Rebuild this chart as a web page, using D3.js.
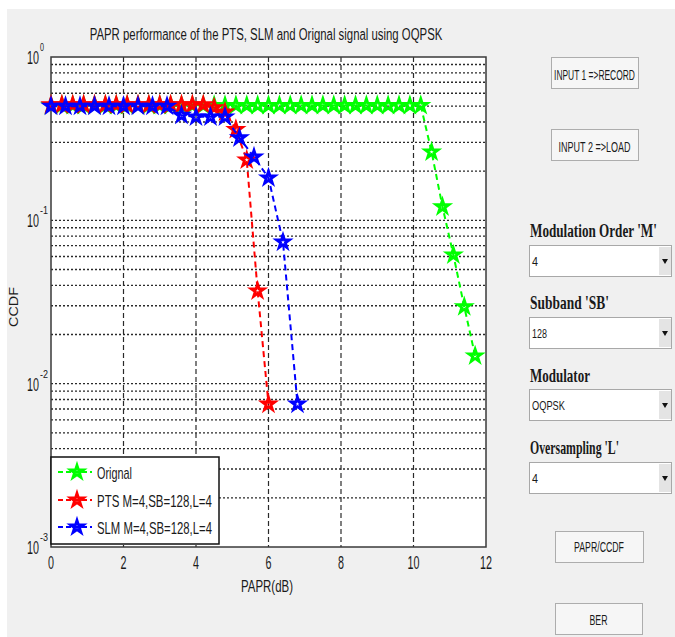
<!DOCTYPE html>
<html>
<head>
<meta charset="utf-8">
<script src="https://cdn.jsdelivr.net/npm/d3@7"></script>
<style>
  body { margin: 0; background: #fff; }
  svg { display: block; }
</style>
</head>
<body>
<div id="chart"></div>
<script>
// --- data ---
const titleText = "PAPR performance of the PTS, SLM and Orignal signal using OQPSK";
const xTicks = [0, 2, 4, 6, 8, 10, 12];
const yDecades = [1, 0.1, 0.01, 0.001];
const yDecadeExp = ["0", "-1", "-2", "-3"];

const origX = [0, 0.3, 0.6, 0.9, 1.2, 1.5, 1.8, 2.1, 2.4, 2.7, 3.0, 3.3, 3.6, 3.9, 4.2, 4.5, 4.8, 5.1, 5.4, 5.7,
               6.0, 6.3, 6.6, 6.9, 7.2, 7.5, 7.8, 8.1, 8.4, 8.7, 9.0, 9.3, 9.6, 9.9, 10.2, 10.5, 10.8, 11.1, 11.4, 11.7];
const origY = [0.505, 0.505, 0.505, 0.505, 0.505, 0.505, 0.505, 0.505, 0.505, 0.505, 0.505, 0.505, 0.505, 0.505,
               0.505, 0.505, 0.505, 0.505, 0.505, 0.505, 0.505, 0.505, 0.505, 0.505, 0.505, 0.505, 0.505, 0.505,
               0.505, 0.505, 0.505, 0.505, 0.505, 0.505, 0.505, 0.262, 0.121, 0.0614, 0.0296, 0.0148];

const ptsX = [0, 0.3, 0.6, 0.9, 1.2, 1.5, 1.8, 2.1, 2.4, 2.7, 3.0, 3.3, 3.6, 3.9, 4.2, 4.5, 4.8, 5.1, 5.4, 5.7, 6.0];
const ptsY = [0.51, 0.51, 0.51, 0.51, 0.51, 0.51, 0.51, 0.51, 0.51, 0.51, 0.51, 0.51, 0.51, 0.51, 0.51,
              0.49, 0.46, 0.36, 0.234, 0.037, 0.0075];

const slmX = [0, 0.4, 0.8, 1.2, 1.6, 2.0, 2.4, 2.8, 3.2, 3.6, 4.0, 4.4, 4.8, 5.2, 5.6, 6.0, 6.4, 6.8];
const slmY = [0.5, 0.5, 0.5, 0.5, 0.5, 0.5, 0.5, 0.5, 0.5, 0.44, 0.43, 0.43, 0.43, 0.32, 0.244, 0.182, 0.0736, 0.0075];

const seriesNames = ["Orignal", "PTS M=4,SB=128,L=4", "SLM M=4,SB=128,L=4"];
const seriesColors = ["#00ff00", "#ff0000", "#0000ff"];

const buttonLabels = ["INPUT 1 =>RECORD", "INPUT 2  =>LOAD", "PAPR/CCDF", "BER"];
const menuLabels = ["Modulation Order 'M'", "Subband 'SB'", "Modulator", "Oversampling 'L'"];
const menuValues = ["4", "128", "OQPSK", "4"];

// --- layout ---
const W = 675, H = 637;
const plot = { left: 51, top: 57, right: 486, bottom: 547 };

const svg = d3.select("#chart").append("svg")
    .attr("width", W)
    .attr("height", H);

svg.append("rect").attr("x", 7).attr("y", 9).attr("width", W - 7).attr("height", H - 9).attr("fill", "#f0f0f0");

// MATLAB screenshot text is squeezed sideways: measure, then scale to the width seen
function label(parent, x, y, str, size, width, anchor, family, weight, rot) {
    const t = parent.append("text")
        .attr("x", 0).attr("y", 0)
        .attr("font-family", family || "Liberation Sans, Arial, sans-serif")
        .attr("font-size", size)
        .attr("font-weight", weight || "normal")
        .attr("text-anchor", anchor || "start")
        .attr("fill", "#1a1a1a")
        .text(str);
    const natural = t.node().getComputedTextLength() || width;
    const sx = width ? width / natural : 1;
    t.attr("transform", "translate(" + x + "," + y + ")" + (rot ? " rotate(" + rot + ")" : "") + " scale(" + sx + ",1)");
    return t;
}

const x = d3.scaleLinear().domain([0, 12]).range([plot.left, plot.right]);
const y = d3.scaleLog().domain([0.001, 1]).range([plot.bottom, plot.top]);

// plot background
svg.append("rect")
    .attr("x", plot.left).attr("y", plot.top)
    .attr("width", plot.right - plot.left).attr("height", plot.bottom - plot.top)
    .attr("fill", "#fff");

// grid
const grid = svg.append("g");
const minor = [];
[0.001, 0.01, 0.1].forEach(d => { for (let k = 1; k <= 9; k++) minor.push(d * k); });
grid.selectAll("line.h").data(minor.filter(v => v > 0.001)).enter().append("line")
    .attr("x1", plot.left).attr("x2", plot.right)
    .attr("y1", d => y(d)).attr("y2", d => y(d))
    .attr("stroke", "#2a2a2a").attr("stroke-width", 1.4)
    .attr("stroke-dasharray", "2,2");
grid.selectAll("line.v").data(xTicks.slice(1, -1)).enter().append("line")
    .attr("x1", d => x(d)).attr("x2", d => x(d))
    .attr("y1", plot.top).attr("y2", plot.bottom)
    .attr("stroke", "#2a2a2a").attr("stroke-width", 1.2)
    .attr("stroke-dasharray", "5,3");

// axes box
svg.append("rect")
    .attr("x", plot.left).attr("y", plot.top)
    .attr("width", plot.right - plot.left).attr("height", plot.bottom - plot.top)
    .attr("fill", "none").attr("stroke", "#3a3a3a").attr("stroke-width", 1.5);

// x tick labels
xTicks.forEach(t => {
    label(svg, x(t), 569, String(t), 18, String(t).length * 6, "middle");
});
label(svg, 267, 592, "PAPR(dB)", 17, 52, "middle");

// y tick labels
yDecades.forEach((d, i) => {
    const ty = y(d);
    label(svg, 39, ty + 7, "10", 18, 12, "end");
    label(svg, 40, ty - 6, yDecadeExp[i], 11, yDecadeExp[i].length * 4, "start");
});
label(svg, 18, 307, "CCDF", 13, 40, "middle", null, null, -90);

// title
label(svg, 266, 40, titleText, 17, 353, "middle");

// series
const series = [
    { xs: origX, ys: origY },
    { xs: ptsX, ys: ptsY },
    { xs: slmX, ys: slmY }
];
const line = d3.line().x(d => x(d[0])).y(d => y(d[1]));
const star = d3.symbol().type(d3.symbolStar).size(50);

series.forEach((s, i) => {
    const pts = s.xs.map((v, j) => [v, s.ys[j]]);
    const g = svg.append("g");
    g.append("path")
        .attr("d", line(pts))
        .attr("fill", "none")
        .attr("stroke", seriesColors[i])
        .attr("stroke-width", 2)
        .attr("stroke-dasharray", "6,4");
    g.selectAll("path.m").data(pts).enter().append("path")
        .attr("d", star)
        .attr("transform", d => "translate(" + x(d[0]) + "," + y(d[1]) + ")")
        .attr("fill", "none")
        .attr("stroke", seriesColors[i])
        .attr("stroke-width", 2.8);
});

// legend
const leg = svg.append("g");
leg.append("rect")
    .attr("x", 51).attr("y", 457).attr("width", 168).attr("height", 87)
    .attr("fill", "#fff").attr("stroke", "#111").attr("stroke-width", 1.5);
const legY = [472, 500, 527];
seriesNames.forEach((name, i) => {
    leg.append("line")
        .attr("x1", 58).attr("x2", 92).attr("y1", legY[i]).attr("y2", legY[i])
        .attr("stroke", seriesColors[i]).attr("stroke-width", 2).attr("stroke-dasharray", "5,3");
    leg.append("path")
        .attr("d", star)
        .attr("transform", "translate(77," + legY[i] + ")")
        .attr("fill", "none").attr("stroke", seriesColors[i]).attr("stroke-width", 2.8);
    label(leg, 97, legY[i] + 7, name, 16, i === 0 ? 35 : 115, "start");
});

// right-hand controls
const ui = svg.append("g");
function button(x0, y0, w, h, text, tw, base) {
    ui.append("rect").attr("x", x0 + 0.5).attr("y", y0 + 0.5).attr("width", w).attr("height", h)
        .attr("fill", "#f6f6f6").attr("stroke", "#adadad").attr("stroke-width", 1);
    label(ui, x0 + w / 2, base, text, 15, tw, "middle");
}
button(551, 57, 87, 31, buttonLabels[0], 81, 80);
button(551, 129, 87, 31, buttonLabels[1], 72, 152);
button(555, 531, 88, 31, buttonLabels[2], 50, 552);
button(555, 603, 87, 31, buttonLabels[3], 18, 625);

const menuBase = [237, 309, 382, 454];
const menuW = [127, 79, 60, 89];
const boxTop = [245, 317, 389, 462];
const valW = [6, 15, 33, 6];
menuLabels.forEach((m, i) => {
    label(ui, 530, menuBase[i], m, 19, menuW[i], "start", "Liberation Serif, Times New Roman, serif", "bold");
    ui.append("rect").attr("x", 529.5).attr("y", boxTop[i] + 0.5).attr("width", 142).attr("height", 31)
        .attr("fill", "#fff").attr("stroke", "#a8a8a8");
    ui.append("rect").attr("x", 659).attr("y", boxTop[i] + 2).attr("width", 12).attr("height", 28)
        .attr("fill", "#e4e4e4");
    ui.append("path")
        .attr("d", "M662," + (boxTop[i] + 14) + "L668," + (boxTop[i] + 14) + "L665," + (boxTop[i] + 19) + "Z")
        .attr("fill", "#111");
    label(ui, 532, boxTop[i] + 21, menuValues[i], 13, valW[i], "start");
});
</script>
</body>
</html>
